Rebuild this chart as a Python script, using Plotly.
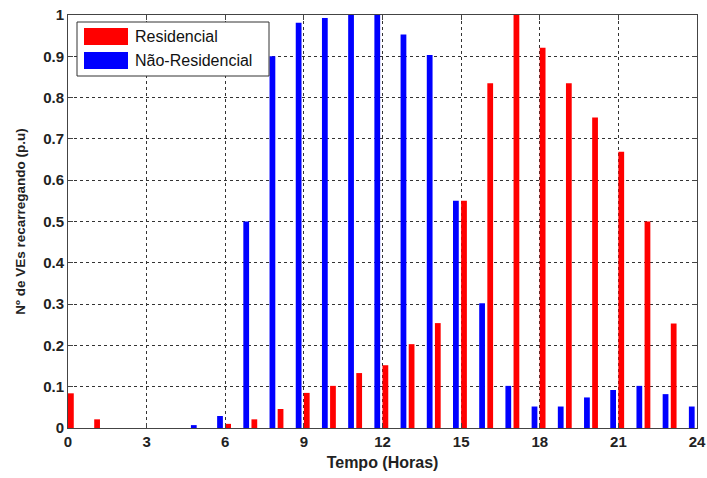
import plotly.graph_objects as go

hours = list(range(25))
residencial = [0.084, 0.021, 0, 0, 0, 0, 0.01, 0.021, 0.046, 0.085, 0.102, 0.133, 0.152,
               0.203, 0.254, 0.55, 0.835, 1.0, 0.921, 0.835, 0.752, 0.669, 0.5, 0.253, 0.11]
nao_residencial = [0, 0, 0, 0, 0, 0.007, 0.029, 0.5, 0.9, 0.981, 0.993, 1.0, 1.0,
                   0.953, 0.903, 0.55, 0.302, 0.102, 0.052, 0.052, 0.074, 0.092, 0.102, 0.082, 0.052]
series_names = ["Residencial", "Não-Residencial"]
series_colors = ["#ff0000", "#0000ff"]
x_ticks = list(range(0, 25, 3))
y_ticks = [round(i * 0.1, 1) for i in range(11)]
y_ticklabels = ["0" if v == 0 else ("1" if v == 1 else f"{v:g}") for v in y_ticks]

fig = go.Figure()
fig.add_trace(go.Bar(x=hours, y=nao_residencial, name=series_names[1],
                     marker=dict(color=series_colors[1], line=dict(width=0)),
                     width=0.22, offset=-0.31, showlegend=False))
fig.add_trace(go.Bar(x=hours, y=residencial, name=series_names[0],
                     marker=dict(color=series_colors[0], line=dict(width=0)),
                     width=0.22, offset=0.0, showlegend=False))

axis_common = dict(
    showline=True, linecolor="#444", linewidth=1, mirror="ticks",
    ticks="inside", ticklen=5, tickcolor="#444",
    showgrid=True, gridcolor="#333", griddash="dot", gridwidth=1,
    zeroline=False, automargin=False,
    tickfont=dict(family="Liberation Sans, Arial", size=15, color="#222", weight="bold"),
)

fig.update_layout(
    width=707, height=478,
    margin=dict(l=68, r=10, t=15, b=50),
    paper_bgcolor="white", plot_bgcolor="white",
    barmode="overlay",
    xaxis=dict(range=[0, 24], tickvals=x_ticks, ticktext=[str(v) for v in x_ticks],
               title=dict(text="<b>Tempo (Horas)</b>", standoff=7,
                          font=dict(family="Liberation Sans, Arial", size=16, color="#222")),
               **axis_common),
    yaxis=dict(range=[0, 1], tickvals=y_ticks, ticktext=y_ticklabels,
               title=dict(text="<b>Nº de VEs recarregando (p.u)</b>", standoff=14,
                          font=dict(family="Liberation Sans, Arial", size=13.5, color="#222")),
               **axis_common),
    showlegend=False,
)

# Manual legend box (MATLAB style with wide color patches)
shapes = [dict(type="rect", xref="paper", yref="paper",
               x0=(77 - 68) / 629, x1=(269 - 68) / 629,
               y0=(428 - 76) / 413, y1=(428 - 22) / 413,
               line=dict(color="#333", width=1), fillcolor="white", layer="above")]
annotations = []
patch_rows = [(28, 45), (52, 69)]
for i, (top, bot) in enumerate(patch_rows):
    shapes.append(dict(type="rect", xref="paper", yref="paper",
                       x0=(84 - 68) / 629, x1=(128 - 68) / 629,
                       y0=(428 - bot) / 413, y1=(428 - top) / 413,
                       line=dict(width=0), fillcolor=series_colors[i], layer="above"))
    annotations.append(dict(xref="paper", yref="paper",
                            x=(133 - 68) / 629, y=(428 - (top + bot) / 2) / 413,
                            text=series_names[i], showarrow=False,
                            xanchor="left", yanchor="middle",
                            font=dict(family="Liberation Sans, Arial", size=16, color="#111")))
fig.update_layout(shapes=shapes, annotations=annotations)

fig.write_html("out.html")
